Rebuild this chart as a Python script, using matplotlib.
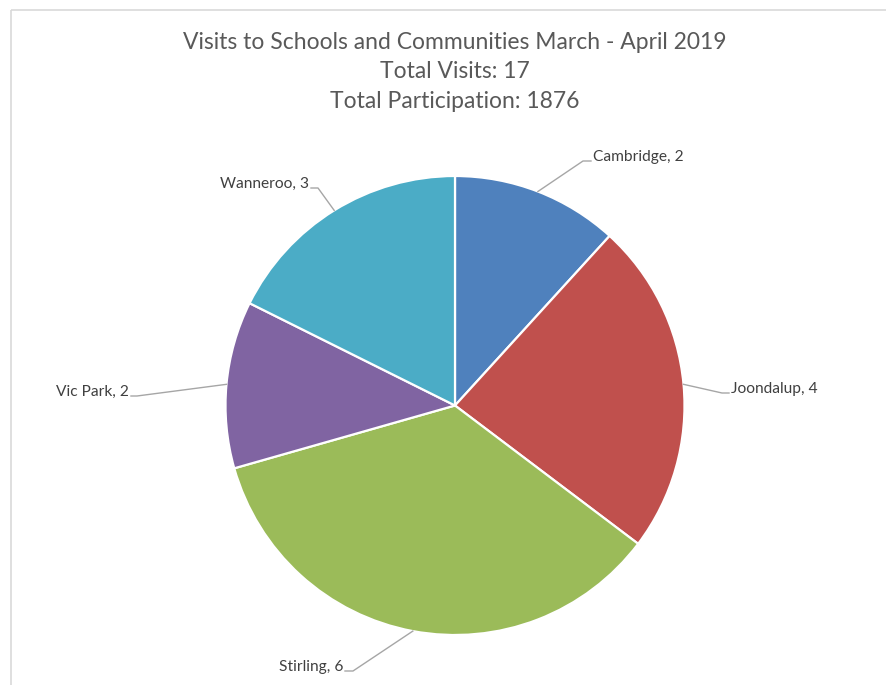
import numpy as np
import matplotlib.pyplot as plt
from matplotlib.patches import Rectangle

regions = ["Cambridge", "Joondalup", "Stirling", "Vic Park", "Wanneroo"]
visits = [2, 4, 6, 2, 3]
colors = ["#4F81BD", "#C0504D", "#9BBB59", "#8064A2", "#4BACC6"]
title_lines = ["Visits to Schools and Communities March - April 2019",
               "Total Visits: 17",
               "Total Participation: 1876"]

plt.rcParams['font.family'] = ['Lato', 'DejaVu Sans']

W, H = 887, 685
cx, cy, r = 455, 405.5, 229.5

fig = plt.figure(figsize=(W / 100, H / 100), dpi=100)
ax = fig.add_axes([0, 0, 1, 1])

# axes in pixel units, y pointing down, so counterclock in data = clockwise on screen
wedges, _ = ax.pie(visits, colors=colors, startangle=-90, counterclock=True,
                   center=(cx, cy), radius=r, frame=True,
                   wedgeprops=dict(edgecolor="white", linewidth=1.6))
ax.set_xlim(0, W)
ax.set_ylim(H, 0)
ax.set_aspect('equal')
ax.axis('off')

# chart border
ax.add_patch(Rectangle((11, 10), W + 20, H + 20, fill=False,
                       edgecolor="#D9D9D9", linewidth=1.2))

for i, line in enumerate(title_lines):
    ax.text(455, [42, 71.5, 101][i], line, ha='center', va='center',
            fontsize=16.5, color="#595959")

# leader line elbows and label anchors (pixels)
elbows = [(583, 161), (722, 393), (353, 671), (137, 396), (318, 188)]
ends = [(591, 161), (729, 393), (345, 671), (131, 396), (311, 188)]
sides = ['left', 'left', 'right', 'right', 'right']

for w, name, v, e, end, side in zip(wedges, regions, visits, elbows, ends, sides):
    mid = np.deg2rad((w.theta1 + w.theta2) / 2)
    px, py = cx + r * np.cos(mid), cy + r * np.sin(mid)
    ax.plot([px, e[0], end[0]], [py, e[1], end[1]], color="#A6A6A6", lw=1)
    tx = end[0] + 2 if side == 'left' else end[0] - 2
    ax.text(tx, end[1] - 4, f"{name}, {v}", ha=side, va='center',
            fontsize=11.2, color="#404040")

fig.savefig("out.png", dpi=100, facecolor="white")
